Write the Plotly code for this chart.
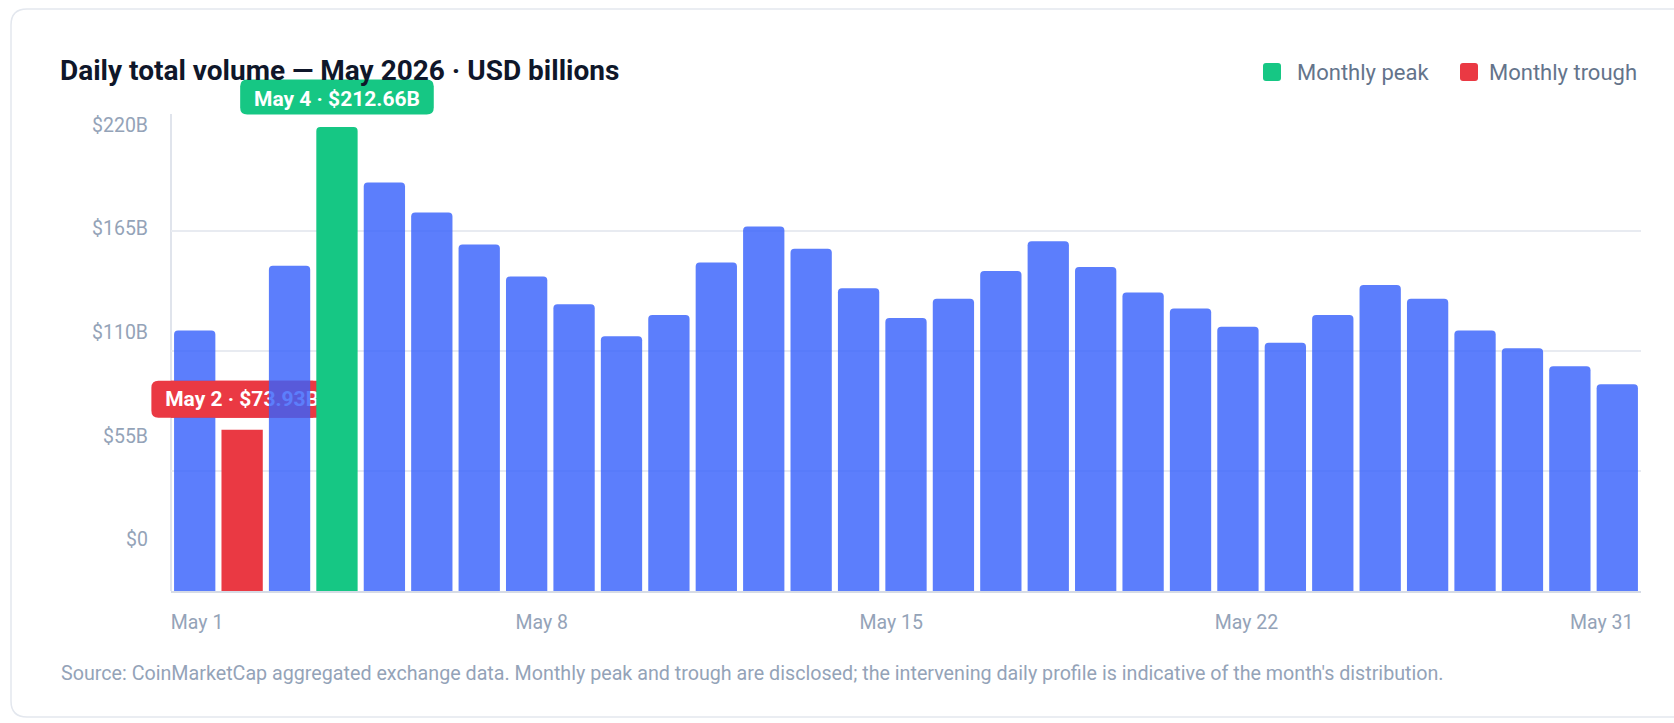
import plotly.graph_objects as go

# ---- data -------------------------------------------------------------
days = list(range(1, 32))
volume_bn = [119.4, 73.93, 149.0, 212.66, 187.2, 173.5, 158.8, 144.1, 131.4, 116.7,
             126.5, 150.5, 167.1, 156.9, 138.8, 125.1, 133.9, 146.6, 160.3, 148.5,
             136.8, 129.5, 121.1, 113.8, 126.5, 140.2, 133.9, 119.4, 111.2, 103.0, 94.8]
x_tick_labels = ["May 1", "May 8", "May 15", "May 22", "May 31"]
y_tick_values = [0, 55, 110, 165, 220]
y_tick_labels = ["$0", "$55B", "$110B", "$165B", "$220B"]

TITLE = "Daily total volume — May 2026 · USD billions"
SOURCE = ("Source: CoinMarketCap aggregated exchange data. Monthly peak and trough are disclosed; "
          "the intervening daily profile is indicative of the month's distribution.")

# ---- styling ------------------------------------------------------------
BLUE, GREEN, RED = "#3861FB", "#16C784", "#EA3943"
INK, MUTED, FAINT = "#0f172a", "#64748b", "#94a3b8"
GRID, AXIS, BORDER = "#e8ebf1", "#d6dbe6", "#e3e7ee"
FONT = "Roboto"

W, H = 1674, 723
ML, MR, MT, MB = 171, 33, 114, 132
PLOT_W, PLOT_H = W - ML - MR, H - MT - MB

X_LO, X_HI = 0.5, 31.5
Y_MAX = 218.6
Y2_LO, Y2_HI = -27.45, 225.84          # label axis on the left
X_TICK_POS = [1.05, 8.32, 15.69, 23.18, 30.67]

PX_PER_X = PLOT_W / (X_HI - X_LO)
PX_PER_Y = PLOT_H / Y_MAX
BAR_W = 0.871

TAG_H, TAG_GAP, TAG_R, TAG_CHAR_W = 37, 12, 7, 12.1
TAG_FONT = dict(family=FONT, size=21, color="white", weight="bold")


def px_x(px):
    return (px - ML) / PLOT_W


def px_y(py):
    return (H - MB - py) / PLOT_H


def rounded_rect_paper(x0, y0, x1, y1, r):
    """Rounded rectangle given in page pixels, returned as a paper-space path."""
    rx, ry = r / PLOT_W, r / PLOT_H
    a, b, c, d = px_x(x0), px_x(x1), px_y(y0), px_y(y1)   # c: top, d: bottom
    return (f"M{a+rx},{c} L{b-rx},{c} Q{b},{c} {b},{c-ry} L{b},{d+ry} Q{b},{d} {b-rx},{d} "
            f"L{a+rx},{d} Q{a},{d} {a},{d+ry} L{a},{c-ry} Q{a},{c} {a+rx},{c} Z")


def rounded_rect(a, b, bottom, top, rx, ry):
    return (f"M{a+rx},{bottom} L{b-rx},{bottom} Q{b},{bottom} {b},{bottom+ry} "
            f"L{b},{top-ry} Q{b},{top} {b-rx},{top} L{a+rx},{top} Q{a},{top} {a},{top-ry} "
            f"L{a},{bottom+ry} Q{a},{bottom} {a+rx},{bottom} Z")


def tag_text(i):
    return f"May {days[i]} · ${volume_bn[i]:.2f}B"


peak_i = max(range(len(volume_bn)), key=lambda i: volume_bn[i])
trough_i = min(range(len(volume_bn)), key=lambda i: volume_bn[i])


def bar_style(idx):
    colors, opac = [], []
    for i in idx:
        if i == peak_i:
            colors.append(GREEN); opac.append(1.0)
        elif i == trough_i:
            colors.append(RED); opac.append(1.0)
        else:
            colors.append(BLUE); opac.append(0.82)
    return dict(color=colors, opacity=opac, cornerradius=4, line_width=0)


fig = go.Figure()

# bars up to the trough, then the trough tag, then the remaining bars drawn over it
first = list(range(0, trough_i + 1))
rest = list(range(trough_i + 1, len(days)))
fig.add_trace(go.Bar(
    x=[days[i] for i in first], y=[volume_bn[i] for i in first], width=BAR_W,
    marker=bar_style(first), hovertemplate="May %{x}: $%{y:.2f}B<extra></extra>",
    showlegend=False,
))

trough_label = tag_text(trough_i)
tag_bottom = volume_bn[trough_i] + TAG_GAP / PX_PER_Y
tag_height = TAG_H / PX_PER_Y
# inner body of the trough tag: centred on the trough bar, reaching the plot's left edge
fig.add_trace(go.Bar(
    x=[days[trough_i]], base=[tag_bottom], y=[tag_height],
    width=[2 * (days[trough_i] - X_LO)],
    marker=dict(color=RED, cornerradius=0, line_width=0),
    text=[trough_label], textposition="inside", insidetextanchor="middle",
    textangle=0, constraintext="none", textfont=TAG_FONT,
    cliponaxis=False, hoverinfo="skip", showlegend=False,
))
fig.add_trace(go.Bar(
    x=[days[i] for i in rest], y=[volume_bn[i] for i in rest], width=BAR_W,
    marker=bar_style(rest), hovertemplate="May %{x}: $%{y:.2f}B<extra></extra>",
    showlegend=False,
))
# carries the left-hand label axis
fig.add_trace(go.Scatter(x=[1], y=[0], yaxis="y2", mode="markers",
                         marker=dict(opacity=0), hoverinfo="skip", showlegend=False))

tick_font = dict(family=FONT, size=19.5, color=FAINT)

# full outline of the trough tag (paper x, data y), sitting under the bars
t_cx = (days[trough_i] - X_LO) / (X_HI - X_LO)
t_half = TAG_CHAR_W * len(trough_label) / 2 / PLOT_W
trough_tag_path = rounded_rect(t_cx - t_half, t_cx + t_half, tag_bottom, tag_bottom + tag_height,
                               TAG_R / PLOT_W, TAG_R / PX_PER_Y)

peak_label = tag_text(peak_i)
p_half = TAG_CHAR_W * len(peak_label) / 2
shapes = [
    # card outline
    dict(type="path", xref="paper", yref="paper", layer="below",
         path=rounded_rect_paper(11, 9, 1710, 717, 16),
         line=dict(color=BORDER, width=1.5), fillcolor="rgba(0,0,0,0)"),
    # value axis line
    dict(type="line", xref="paper", yref="paper", layer="below",
         x0=0, x1=0, y0=0, y1=1, line=dict(color=AXIS, width=1.5)),
    dict(type="path", xref="paper", yref="y", layer="below",
         path=trough_tag_path, fillcolor=RED, line_width=0),
    # legend swatches
    dict(type="path", xref="paper", yref="paper",
         path=rounded_rect_paper(1263, 63, 1281, 81, 3), fillcolor=GREEN, line_width=0),
    dict(type="path", xref="paper", yref="paper",
         path=rounded_rect_paper(1460, 63, 1478, 81, 3), fillcolor=RED, line_width=0),
    # peak tag above the tallest bar
    dict(type="path", xsizemode="pixel", ysizemode="pixel", layer="above",
         xref="x", xanchor=days[peak_i], yref="paper", yanchor=volume_bn[peak_i] / Y_MAX,
         path=rounded_rect(-p_half, p_half, 12.5, 12.5 + 35, TAG_R, TAG_R),
         fillcolor=GREEN, line_width=0,
         label=dict(text=f"<b>{peak_label}</b>", textposition="middle center",
                    font=dict(family=FONT, size=21, color="white"))),
]

annotations = [
    dict(text=f"<b>{TITLE}</b>", xref="paper", yref="paper", x=px_x(58), y=px_y(70.5),
         xanchor="left", yanchor="middle", showarrow=False,
         font=dict(family=FONT, size=28, color=INK)),
    dict(text="Monthly peak", xref="paper", yref="paper", x=px_x(1295), y=px_y(72.5),
         xanchor="left", yanchor="middle", showarrow=False,
         font=dict(family=FONT, size=22, color=MUTED)),
    dict(text="Monthly trough", xref="paper", yref="paper", x=px_x(1639), y=px_y(72.5),
         xanchor="right", yanchor="middle", showarrow=False,
         font=dict(family=FONT, size=22, color=MUTED)),
    dict(text=SOURCE, xref="paper", yref="paper", x=px_x(59), y=px_y(673.6),
         xanchor="left", yanchor="middle", showarrow=False,
         font=dict(family=FONT, size=19.7, color=FAINT)),
]

fig.update_layout(
    width=W, height=H,
    margin=dict(l=ML, r=MR, t=MT, b=MB, pad=0),
    paper_bgcolor="white", plot_bgcolor="rgba(0,0,0,0)",
    font=dict(family=FONT),
    barmode="overlay",
    showlegend=False,
    shapes=shapes,
    annotations=annotations,
    xaxis=dict(range=[X_LO, X_HI], tickmode="array", tickvals=X_TICK_POS,
               ticktext=x_tick_labels, showgrid=False, zeroline=False,
               showline=True, linecolor=AXIS, linewidth=2, ticks="",
               tickfont=tick_font, ticklabelstandoff=13, fixedrange=True),
    yaxis=dict(range=[0, Y_MAX], tick0=0, dtick=55, showticklabels=False,
               showgrid=True, gridcolor=GRID, gridwidth=1.5, zeroline=False,
               showline=False, ticks="", fixedrange=True),
    yaxis2=dict(overlaying="y", side="left", anchor="x", range=[Y2_LO, Y2_HI],
                tickmode="array", tickvals=y_tick_values, ticktext=y_tick_labels,
                showgrid=False, zeroline=False, showline=False, ticks="",
                tickfont=tick_font, ticklabelstandoff=22, fixedrange=True),
)

fig.write_html("out.html")
